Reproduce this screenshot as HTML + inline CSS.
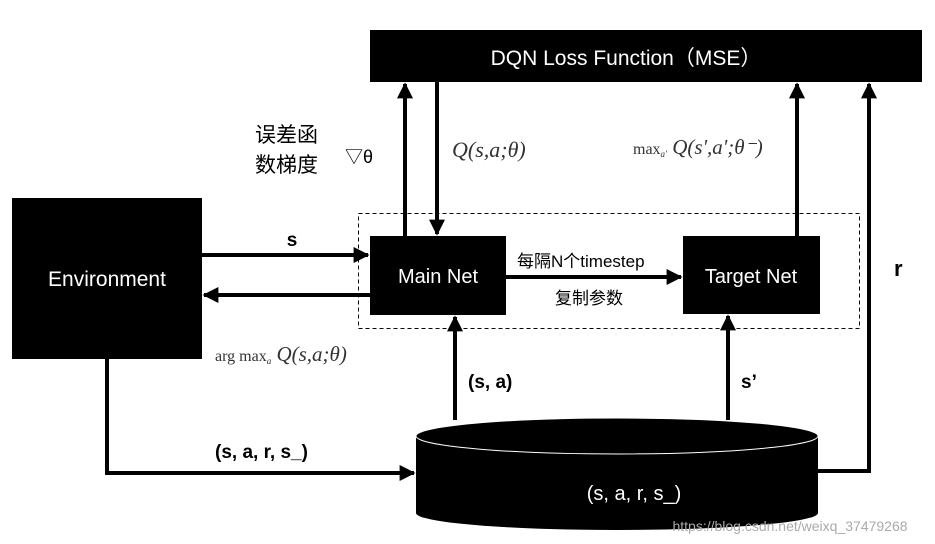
<!DOCTYPE html>
<html><head><meta charset="utf-8"><style>
html,body{margin:0;padding:0;background:#fff;width:935px;height:544px;overflow:hidden}
svg{display:block}
.s{font-family:"Liberation Sans","Noto Sans CJK SC",sans-serif}
.m{font-family:"Liberation Serif",serif;fill:#333}
</style></head><body>
<svg width="935" height="544" viewBox="0 0 935 544" xmlns="http://www.w3.org/2000/svg">
<defs>
<marker id="a" viewBox="0 0 10 10" refX="9" refY="5" markerWidth="4" markerHeight="4" orient="auto"><path d="M0,0L10,5L0,10z" fill="#000"/></marker>
</defs>
<!-- DQN box -->
<rect x="370" y="30" width="552" height="52" fill="#000"/>
<text x="626" y="65" class="s" font-size="21" fill="#fff" text-anchor="middle">DQN Loss Function（MSE）</text>
<!-- dashed -->
<rect x="358.5" y="213.5" width="501" height="115" fill="none" stroke="#000" stroke-dasharray="4,3" stroke-width="1"/>
<!-- Env -->
<rect x="12" y="198" width="190" height="161" fill="#000"/>
<text x="107" y="286" class="s" font-size="21" fill="#fff" text-anchor="middle">Environment</text>
<!-- Main -->
<rect x="370" y="236" width="136" height="79" fill="#000"/>
<text x="438" y="283" class="s" font-size="20" fill="#fff" text-anchor="middle">Main Net</text>
<!-- Target -->
<rect x="683" y="236" width="137" height="78" fill="#000"/>
<text x="751" y="283" class="s" font-size="20" fill="#fff" text-anchor="middle">Target Net</text>
<!-- cylinder -->
<path d="M416,436 L416,513 A201,17 0 0 0 818,513 L818,436 Z" fill="#000"/>
<ellipse cx="617" cy="436" rx="201" ry="18" fill="#000" stroke="#fff" stroke-width="1"/>
<text x="634" y="500" class="s" font-size="20" fill="#fff" text-anchor="middle">(s, a, r, s_)</text>
<text x="790" y="531" font-family="Liberation Sans,sans-serif" font-size="14" fill="#aaa" text-anchor="middle">https://blog.csdn.net/weixq_37479268</text>
<g stroke="#000" stroke-width="4" fill="none">
<line x1="405" y1="236" x2="405" y2="84" marker-end="url(#a)"/>
<line x1="437" y1="82" x2="437" y2="234" marker-end="url(#a)"/>
<line x1="797" y1="236" x2="797" y2="84" marker-end="url(#a)"/>
<polyline points="818,471 869,471 869,84" marker-end="url(#a)"/>
<line x1="202" y1="255" x2="368" y2="255" marker-end="url(#a)"/>
<line x1="370" y1="295" x2="204" y2="295" marker-end="url(#a)"/>
<line x1="506" y1="277" x2="681" y2="277" marker-end="url(#a)"/>
<line x1="455" y1="420" x2="455" y2="317" marker-end="url(#a)"/>
<line x1="728" y1="420" x2="728" y2="316" marker-end="url(#a)"/>
<polyline points="107,359 107,473 414,473" marker-end="url(#a)"/>
</g>
<g class="s" font-size="19" font-weight="bold" fill="#000">
<text x="292" y="246" text-anchor="middle">s</text>
<text x="468" y="388">(s, a)</text>
<text x="741" y="388">s’</text>
<text x="215" y="458">(s, a, r, s_)</text>
<text x="894" y="276" font-size="22">r</text>
</g>
<g class="s" font-size="18" fill="#000">
<text x="517" y="267" font-size="17">每隔N个timestep</text>
<text x="555" y="304" font-size="17">复制参数</text>
<text x="255" y="142" font-size="21">误差函</text>
<text x="255" y="172" font-size="21">数梯度</text>
<text x="345" y="163" font-size="18">▽θ</text>
</g>
<text x="452" y="157" class="m" font-size="22" font-style="italic">Q(s,a;θ)</text>
<text x="633" y="154" class="m" font-size="16">max<tspan font-size="9" font-style="italic" dy="3">a'</tspan><tspan dy="-3" font-size="21" font-style="italic"> Q(s',a';θ⁻)</tspan></text>
<text x="215" y="361" class="m" font-size="16">arg max<tspan font-size="9" font-style="italic" dy="3">a</tspan><tspan dy="-3" font-size="21" font-style="italic"> Q(s,a;θ)</tspan></text>
</svg>
</body></html>
